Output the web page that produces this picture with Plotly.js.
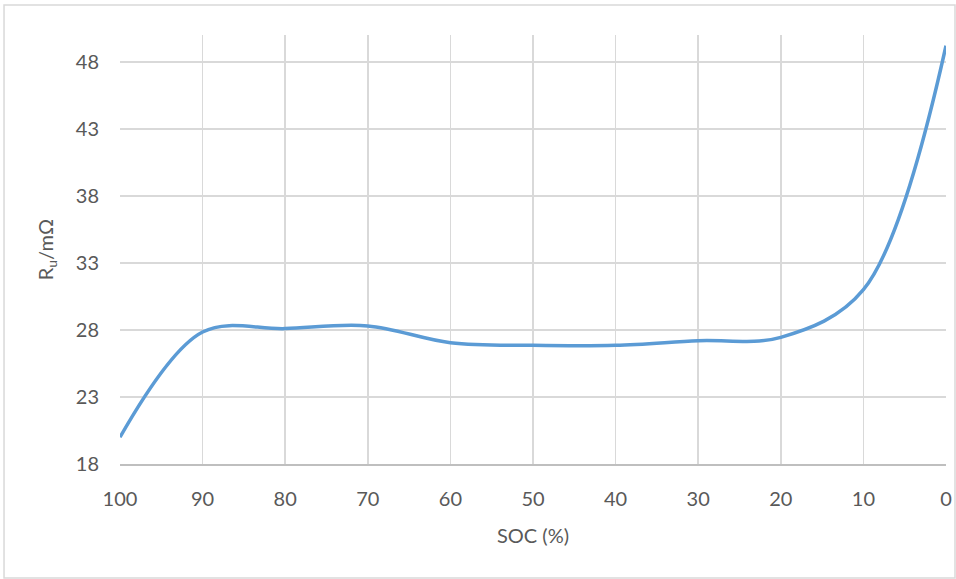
<!DOCTYPE html>
<html>
<head>
<meta charset="utf-8">
<script src="https://cdn.plot.ly/plotly-3.0.1.min.js"></script>
<style>html,body{margin:0;padding:0;background:#fff;}#chart{width:956px;height:579px;}</style>
</head>
<body>
<div id="chart"></div>
<script>
const soc = [100, 90, 80, 70, 60, 50, 40, 30, 20, 10, 0];
const ru = [20.0, 27.85, 28.1, 28.3, 27.05, 26.85, 26.85, 27.2, 27.45, 31.0, 49.2];
const yTicks = [18, 23, 28, 33, 38, 43, 48];
const xTicks = [100, 90, 80, 70, 60, 50, 40, 30, 20, 10, 0];

const font = {family: 'Lato, "Open Sans", sans-serif', size: 20, color: '#595959'};

Plotly.newPlot('chart', [{
  x: soc, y: ru, type: 'scatter', mode: 'lines',
  line: {color: '#5B9BD5', width: 3.5, shape: 'spline', smoothing: 1},
  hoverinfo: 'none'
}], {
  width: 956, height: 579,
  margin: {l: 120, r: 10, t: 35, b: 115},
  paper_bgcolor: '#fff', plot_bgcolor: '#fff',
  showlegend: false,
  font: font,
  xaxis: {
    range: [100, 0], tickvals: xTicks, ticktext: xTicks.map(String),
    showgrid: true, gridcolor: '#D9D9D9', gridwidth: 1.5,
    zeroline: false, showline: true, linecolor: '#BFBFBF', linewidth: 1.5,
    ticks: '', ticklabelstandoff: 16, tickfont: font,
    title: {text: 'SOC (%)', font: font, standoff: 20}
  },
  yaxis: {
    range: [18, 50], tickvals: yTicks, ticktext: yTicks.map(String),
    showgrid: true, gridcolor: '#D9D9D9', gridwidth: 1.5,
    zeroline: false, showline: false,
    ticks: '', ticklabelstandoff: 20, tickfont: font,
    title: {text: 'R<sub>u</sub>/mΩ', font: font, standoff: 16}
  },
  shapes: [{
    type: 'rect', xref: 'paper', yref: 'paper',
    x0: -0.1404, x1: 1.0109, y0: -0.2657, y1: 1.0699,
    line: {color: '#D9D9D9', width: 1.5}, fillcolor: 'rgba(0,0,0,0)', layer: 'below'
  }]
}, {staticPlot: true});
</script>
</body>
</html>
